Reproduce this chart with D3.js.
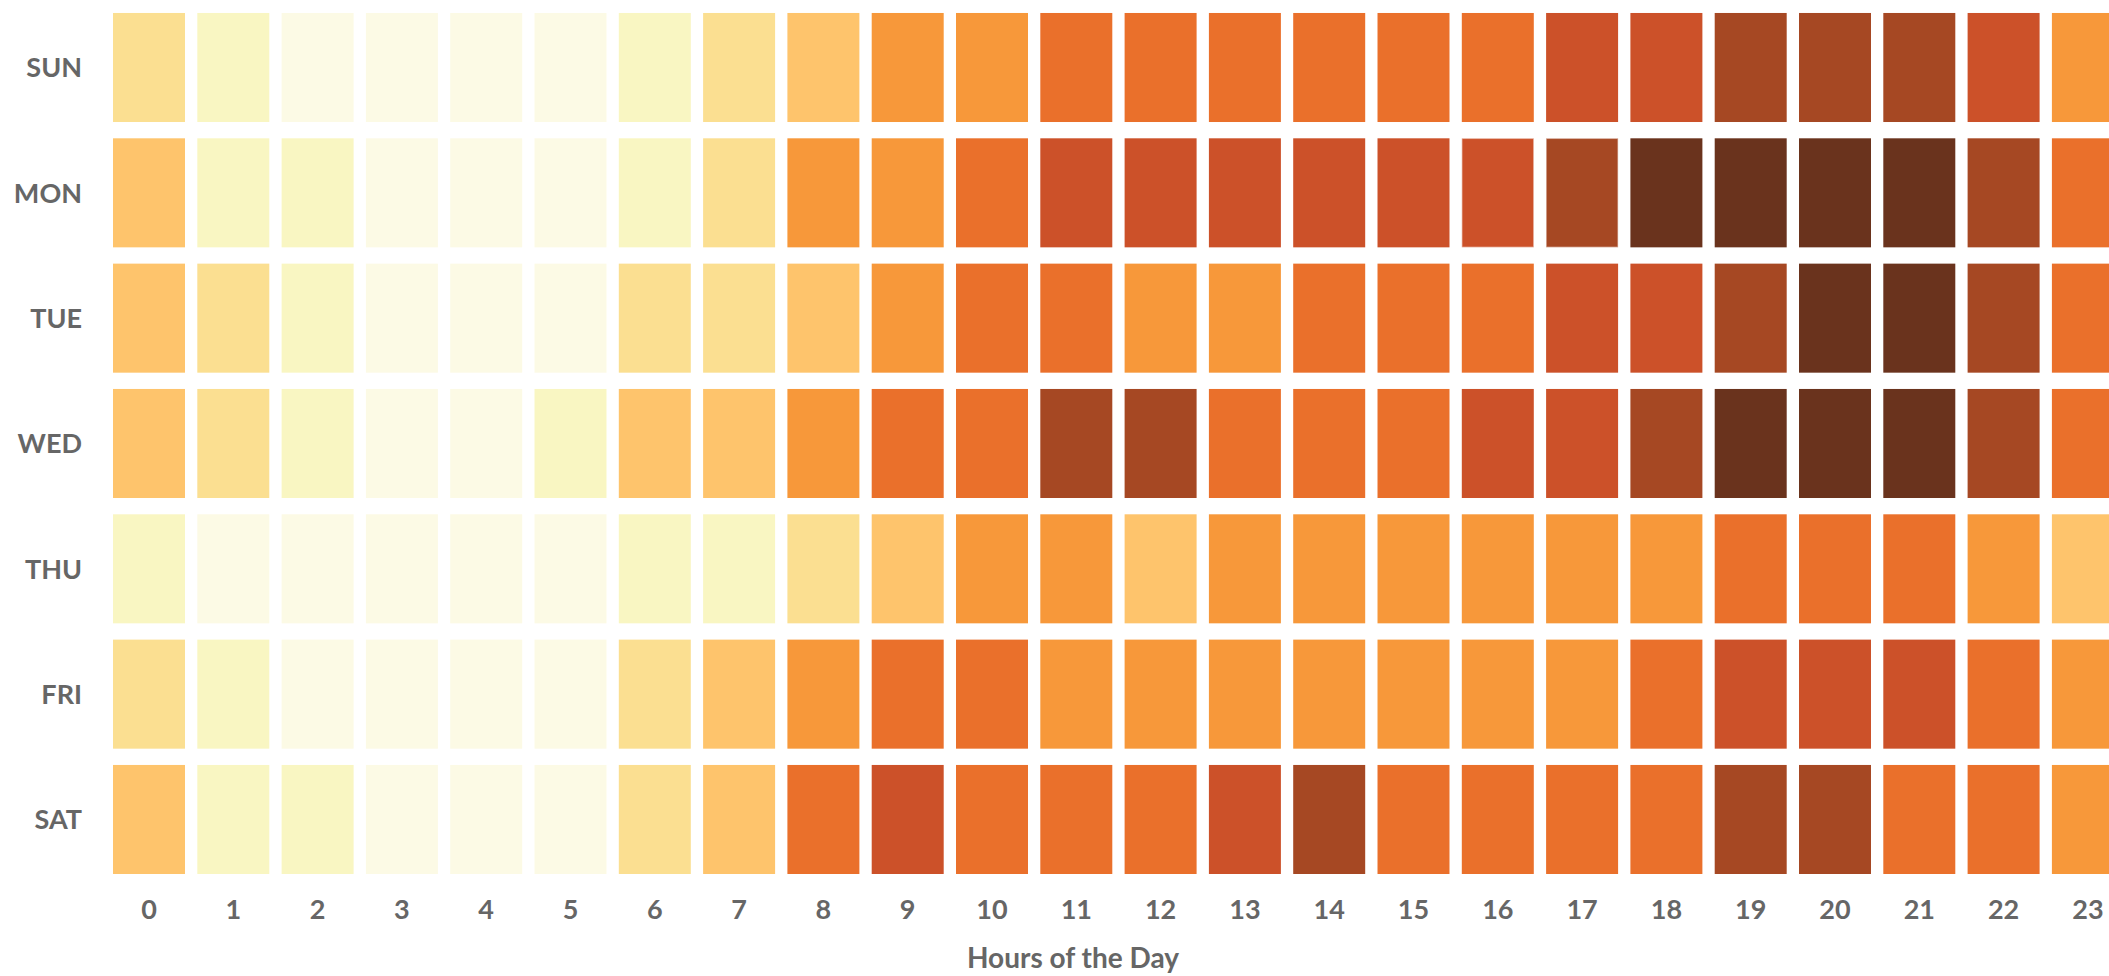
<!DOCTYPE html>
<html>
<head>
<meta charset="utf-8">
<script src="https://cdn.jsdelivr.net/npm/d3@7"></script>
<style>
  body { margin: 0; background: #fff; overflow: hidden; }
  text { font-family: Lato, 'Open Sans', sans-serif; font-weight: 700; fill: #666; }
</style>
</head>
<body>
<svg width="2109" height="976"></svg>
<script>
const svg = d3.select('svg');
const width = parseFloat(svg.attr('width'));
const height = parseFloat(svg.attr('height'));

const days = ['SUN', 'MON', 'TUE', 'WED', 'THU', 'FRI', 'SAT'];
const hours = d3.range(24);

// activity level (0 = quietest, 8 = busiest) for each hour
const sun = [2, 1, 0, 0, 0, 0, 1, 2, 3, 4, 4, 5, 5, 5, 5, 5, 5, 6, 6, 7, 7, 7, 6, 4];
const mon = [3, 1, 1, 0, 0, 0, 1, 2, 4, 4, 5, 6, 6, 6, 6, 6, 6, 7, 8, 8, 8, 8, 7, 5];
const tue = [3, 2, 1, 0, 0, 0, 2, 2, 3, 4, 5, 5, 4, 4, 5, 5, 5, 6, 6, 7, 8, 8, 7, 5];
const wed = [3, 2, 1, 0, 0, 1, 3, 3, 4, 5, 5, 7, 7, 5, 5, 5, 6, 6, 7, 8, 8, 8, 7, 5];
const thu = [1, 0, 0, 0, 0, 0, 1, 1, 2, 3, 4, 4, 3, 4, 4, 4, 4, 4, 4, 5, 5, 5, 4, 3];
const fri = [2, 1, 0, 0, 0, 0, 2, 3, 4, 5, 5, 4, 4, 4, 4, 4, 4, 4, 5, 6, 6, 6, 5, 4];
const sat = [3, 1, 1, 0, 0, 0, 2, 3, 5, 6, 5, 5, 5, 6, 7, 5, 5, 5, 5, 7, 7, 5, 5, 4];

// cells drawn with a faint outline
const outlined = [['MON', 16], ['MON', 17]];

const palette = ['#fcfae5', '#f9f6c2', '#fbdf91', '#fec46c', '#f7983a',
                 '#ea702b', '#cc5129', '#a64823', '#6a331d'];

const rows = [sun, mon, tue, wed, thu, fri, sat];
const data = [];
rows.forEach((row, i) => {
  row.forEach((v, h) => data.push({ day: days[i], hour: h, value: v }));
});

const xScale = d3.scaleBand()
  .domain(hours)
  .range([106.85, 106.85 + 24 * 84.3])
  .paddingInner(0.146)
  .paddingOuter(0.073);

const yScale = d3.scaleBand()
  .domain(days)
  .range([4.83, 4.83 + 7 * 125.33])
  .paddingInner(0.13)
  .paddingOuter(0.065);

const color = d3.scaleOrdinal().domain(d3.range(9)).range(palette);

const isOutlined = (d) => outlined.some(([day, h]) => day === d.day && h === d.hour);

svg.append('g')
  .selectAll('rect')
  .data(data)
  .join('rect')
  .attr('x', (d) => xScale(d.hour))
  .attr('y', (d) => yScale(d.day))
  .attr('width', xScale.bandwidth())
  .attr('height', yScale.bandwidth())
  .attr('fill', (d) => color(d.value))
  .attr('stroke', (d) => (isOutlined(d) ? 'rgba(255,255,255,0.45)' : 'none'))
  .attr('stroke-width', 1.5);

const bottom = yScale('SAT') + yScale.bandwidth();

const yAxis = d3.axisLeft(yScale).tickSize(0).tickPadding(31);
svg.append('g')
  .attr('transform', `translate(${xScale(0)}, 0)`)
  .call(yAxis)
  .call((g) => g.select('.domain').remove())
  .selectAll('text')
  .attr('font-size', 27)
  .attr('dy', '0.36em');

const xAxis = d3.axisBottom(xScale).tickSize(0).tickPadding(26);
svg.append('g')
  .attr('transform', `translate(0, ${bottom})`)
  .call(xAxis)
  .call((g) => g.select('.domain').remove())
  .selectAll('text')
  .attr('font-size', 27);

svg.selectAll('.tick text').style('font-family', 'Lato, sans-serif').attr('fill', '#666');

svg.append('text')
  .attr('x', 1073)
  .attr('y', 968)
  .attr('text-anchor', 'middle')
  .attr('font-size', 28)
  .text('Hours of the Day');
</script>
</body>
</html>
